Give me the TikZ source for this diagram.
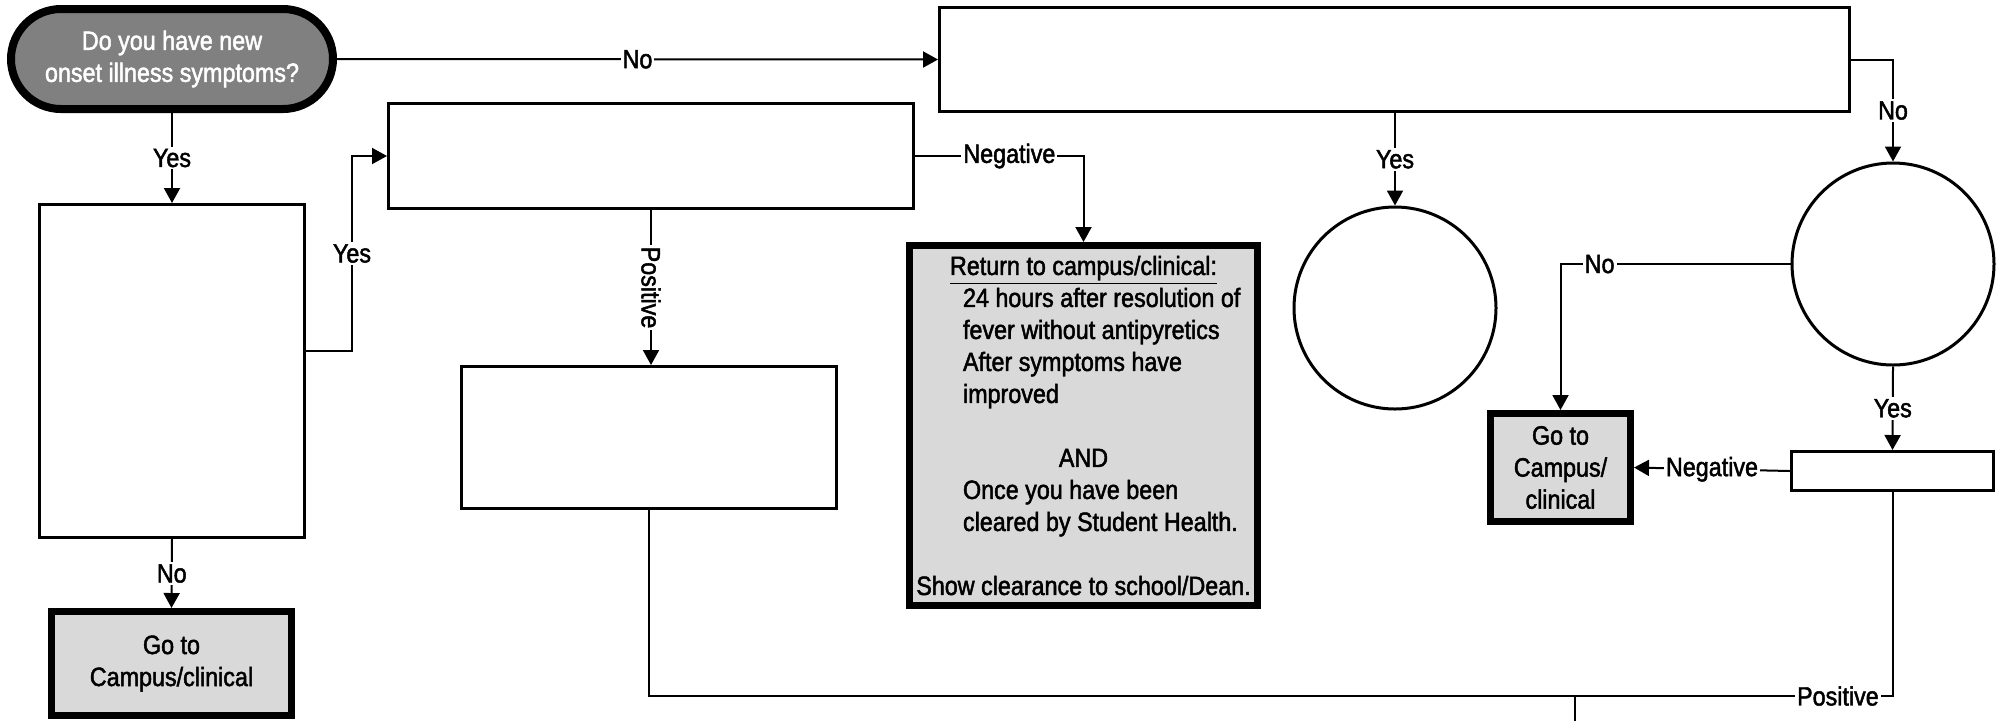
\documentclass[tikz,border=0pt]{standalone}
\usepackage{fontspec}
\setmainfont{Liberation Sans}[FakeStretch=0.88,FakeBold=1.8]
\usetikzlibrary{arrows.meta,calc}
\definecolor{darkfill}{HTML}{808080}
\definecolor{lightfill}{HTML}{D9D9D9}
\tikzset{
  every node/.style={font=\fontsize{13.25pt}{16pt}\selectfont},
  plainbox/.style={draw, line width=1.5pt, fill=white, inner sep=0pt},
  endbox/.style={draw, line width=3.5pt, fill=lightfill, align=center, inner sep=0pt},
  decircle/.style={draw, circle, line width=1.5pt, fill=white, inner sep=0pt, minimum size=101pt},
  conn/.style={line width=1pt},
  arr/.style={conn, -{Triangle[length=7.5pt,width=8pt]}},
  lbl/.style={fill=white, inner sep=1pt},
}
\begin{document}
\begin{tikzpicture}[x=0.5pt, y=-0.5pt]
\useasboundingbox (0,0) rectangle (1996,720);
% nodes
\node[draw, line width=4pt, fill=darkfill, text=white, rounded corners=25pt,
      minimum width=161pt, minimum height=50pt, align=center, inner sep=0pt]
      (start) at (172,59) {Do you have new\\onset illness symptoms?};
\node[plainbox, minimum width=455pt, minimum height=52pt] (E) at (1394.5,59.5) {};
\node[plainbox, minimum width=262.5pt, minimum height=52.5pt] (B) at (651,156) {};
\node[plainbox, minimum width=132.5pt, minimum height=166.5pt] (A) at (172,371) {};
\node[plainbox, minimum width=187.5pt, minimum height=71pt] (D) at (649,437.5) {};
\node[endbox, minimum width=174pt, minimum height=180pt] (C) at (1083.5,425.5)
  {\underline{Return to campus/clinical:}\\
   \makebox[120.5pt][l]{24 hours after resolution of}\\
   \makebox[120.5pt][l]{fever without antipyretics}\\
   \makebox[120.5pt][l]{After symptoms have}\\
   \makebox[120.5pt][l]{improved}\\
   \mbox{}\\
   AND\\
   \makebox[120.5pt][l]{Once you have been}\\
   \makebox[120.5pt][l]{cleared by Student Health.}\\
   \mbox{}\\
   Show clearance to school/Dean.};
\node[plainbox, minimum width=101pt, minimum height=19.5pt] (F) at (1892.5,471) {};
\node[endbox, minimum width=70pt, minimum height=54pt] (G) at (1560.5,467.5) {Go to\\Campus/\\clinical};
\node[decircle] (H) at (1893,264) {};
\node[decircle] (I) at (1395,308) {};
\node[endbox, minimum width=120pt, minimum height=52pt] (J) at (171.5,663.5) {Go to\\Campus/clinical};
% connectors
\draw[arr] (start.east) -- node[lbl]{No} (E.west);
\draw[arr] (start.south) -- node[lbl]{Yes} (A.north);
\draw[arr] (A.south) -- node[lbl]{No} (J.north);
\draw[arr] ($(A.east)+(0,-20)$) -- ++(46,0) |- node[lbl,pos=0.25]{Yes} (B.west);
\draw[arr] (B.east) -| node[lbl,pos=0.28]{Negative} (C.north);
\draw[arr] (B.south) -- node[lbl,rotate=-90]{Positive} (B.south |- D.north);
\draw[arr] (E.south -| I.north) -- node[lbl]{Yes} (I.north);
\draw[arr] (E.east) -| node[lbl,pos=0.75]{No} (H.north);
\draw[arr] (H.west) -| node[lbl,pos=0.415]{No} (G.north);
\draw[arr] (H.south) -- node[lbl]{Yes} (F.north);
\draw[arr] (F.west) -- node[lbl]{Negative} (G.east);
\coordinate (m) at (1575,696);
\coordinate (down) at (1575,730);
\draw[conn] (F.south) |- node[lbl,pos=0.586]{Positive} (m);
\draw[conn] (D.south) |- (m);
\draw[conn] (m) -- (down);
\end{tikzpicture}
\end{document}
